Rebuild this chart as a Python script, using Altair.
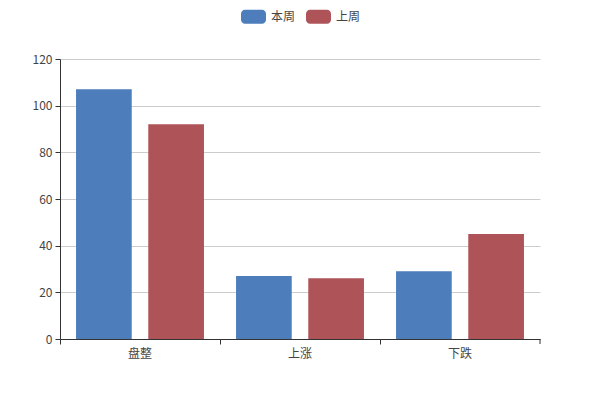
import altair as alt
import pandas as pd

categories = ["盘整", "上涨", "下跌"]
series_names = ["本周", "上周"]
this_week = [107, 27, 29]
last_week = [92, 26, 45]
colors = ["#4d7ebb", "#ae5458"]

rows = []
for c, v in zip(categories, this_week):
    rows.append({"category": c, "series": series_names[0], "value": v})
for c, v in zip(categories, last_week):
    rows.append({"category": c, "series": series_names[1], "value": v})
df = pd.DataFrame(rows)

FONT = "Noto Sans CJK SC"
TEXT = "#444444"
rounded = ("M-0.68,-0.56 L0.68,-0.56 A0.32,0.32 0 0 1 1,-0.24 L1,0.24 "
           "A0.32,0.32 0 0 1 0.68,0.56 L-0.68,0.56 A0.32,0.32 0 0 1 -1,0.24 "
           "L-1,-0.24 A0.32,0.32 0 0 1 -0.68,-0.56 Z")

bars = alt.Chart(df).mark_bar().encode(
    x=alt.X("category:N", sort=categories,
            scale=alt.Scale(paddingInner=0, paddingOuter=0),
            axis=alt.Axis(title=None, labelAngle=0, bandPosition=0, tickSize=5,
                          grid=False, domainColor="#333333", tickColor="#333333",
                          labelColor=TEXT, labelFont=FONT, labelFontSize=12,
                          labelPadding=4)),
    xOffset=alt.XOffset("series:N", sort=series_names,
                        scale=alt.Scale(paddingInner=0.229, paddingOuter=0.222)),
    y=alt.Y("value:Q", scale=alt.Scale(domain=[0, 120], nice=False),
            axis=alt.Axis(title=None, values=[0, 20, 40, 60, 80, 100, 120],
                          tickSize=5, domainColor="#333333", tickColor="#333333",
                          gridColor="#cccccc", labelColor=TEXT, labelFont=FONT,
                          labelFontSize=12, labelPadding=3)),
    color=alt.Color("series:N", sort=series_names,
                    scale=alt.Scale(domain=series_names, range=colors),
                    legend=alt.Legend(title=None, orient="none", direction="horizontal",
                                      legendX=181, legendY=-55,
                                      symbolType=rounded, symbolSize=625,
                                      symbolOpacity=1, symbolStrokeWidth=0,
                                      labelFont=FONT, labelFontSize=12,
                                      labelColor=TEXT, labelOffset=5,
                                      columnPadding=10)),
)

end_tick = alt.Chart(pd.DataFrame({"a": [0]})).mark_rule(color="#333333").encode(
    x=alt.value(480), y=alt.value(280), y2=alt.value(285)
)

chart = alt.layer(bars, end_tick).properties(
    width=480, height=280,
    autosize=alt.AutoSizeParams(type="none"),
    padding={"left": 52, "top": 51, "right": 52, "bottom": 52},
).configure_view(stroke=None)

chart.save("out.html", embed_options={"renderer": "svg", "actions": False})
